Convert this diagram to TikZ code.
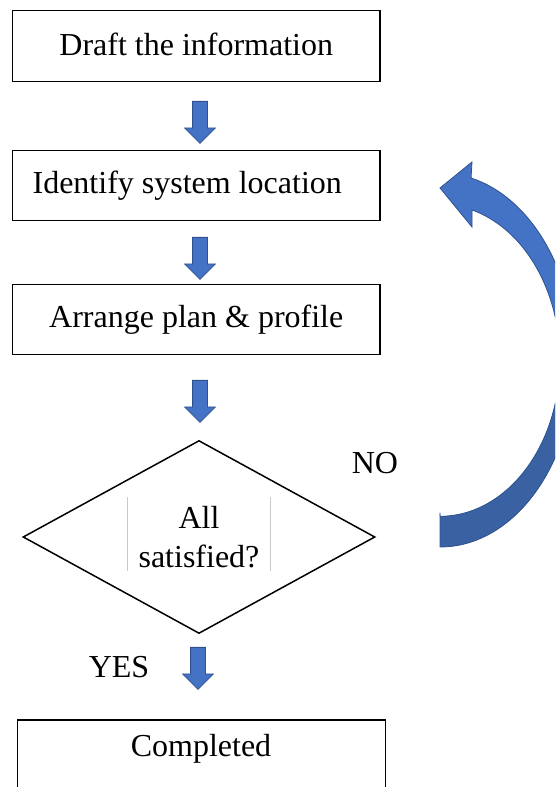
\documentclass[tikz,border=0pt]{standalone}
\usepackage{fontspec}
\setmainfont{Liberation Serif}
\usetikzlibrary{shapes.geometric,shapes.arrows}
\definecolor{arrowblue}{HTML}{4472C4}
\definecolor{arrowedge}{HTML}{2F528F}
\definecolor{arrowdark}{HTML}{3A62A3}
\definecolor{bargray}{HTML}{C8C8C8}
\begin{document}
\begin{tikzpicture}
  [x=1pt,y=1pt,
   every node/.style={font=\fontsize{32}{39}\selectfont},
   stepbox/.style={draw,line width=1.2pt,rectangle,minimum width=367.5pt,minimum height=70.5pt},
   decision/.style={draw,line width=1.5pt,diamond,minimum width=352pt,minimum height=193pt,align=center,inner sep=0pt},
   downarrow/.style={single arrow,draw=arrowedge,fill=arrowblue,line width=0.8pt,minimum height=42pt,
     inner sep=7pt,single arrow head extend=8pt,rotate=-90,anchor=tail},
   returnarrow/.style={line width=0.8pt}]
  \useasboundingbox (0,0) rectangle (555,787);
  \clip (0,0) rectangle (555,787);

  \node[stepbox] (draft) at (196.25,741) {\raisebox{3pt}{Draft the information}};
  \node[stepbox] (locate) at (196.25,601.5) {Identify system location\hspace*{18pt}};
  \node[stepbox] (plan) at (196.25,467.5) {Arrange plan \& profile};
  \node[decision] (check) at (199,250) {All\\satisfied?};
  \node[stepbox,minimum height=100pt] (done) at (201.5,17) {};
  \node (donetext) at (201,38) {Completed};

  \node (no) at (375,324) {NO};
  \node (yes) at (119,120) {YES};

  % text box edges inside the decision
  \draw[bargray,line width=0.8pt] (127,290) -- (127,216);
  \draw[bargray,line width=0.8pt] (270,290) -- (270,216);

  \foreach \name/\ax/\ay in {a1/200/686,a2/200/550,a3/200/407,a4/198/140}
    \node[downarrow] (\name) at (\ax,\ay) {};

  % curved return arrow
  \coordinate (tail) at (440,274);
  \coordinate (tip) at (440,599);
  \begin{scope}
    \path[fill=arrowblue] (tail) -- (440,240)
      arc[x radius=135,y radius=187,start angle=-90,end angle=76.7]
      -- (472,625) -- (tip) -- (472,560) -- (472,577)
      arc[x radius=120,y radius=156,start angle=74.5,end angle=-90] -- cycle;
    \clip (400,0) rectangle (555,393);
    \path[fill=arrowdark] (tail) -- (440,240)
      arc[x radius=135,y radius=187,start angle=-90,end angle=76.7]
      -- (472,625) -- (tip) -- (472,560) -- (472,577)
      arc[x radius=120,y radius=156,start angle=74.5,end angle=-90] -- cycle;
  \end{scope}
  \draw[returnarrow,arrowedge] (tail) -- (440,240)
    arc[x radius=135,y radius=187,start angle=-90,end angle=76.7]
    -- (472,625) -- (tip) -- (472,560) -- (472,577)
    arc[x radius=120,y radius=156,start angle=74.5,end angle=-90] -- cycle;
\end{tikzpicture}
\end{document}
